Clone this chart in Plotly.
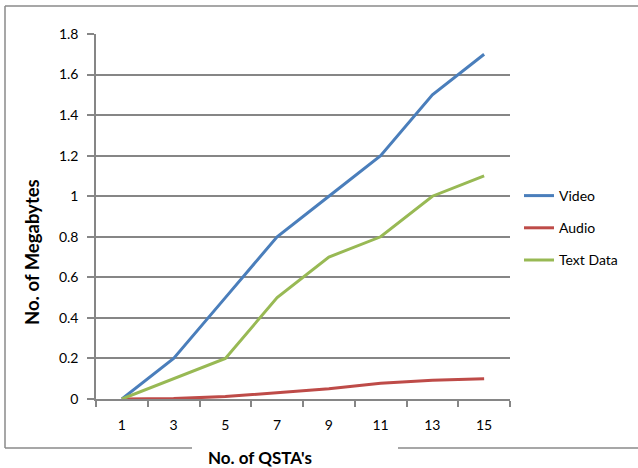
import plotly.graph_objects as go

categories = ["1", "3", "5", "7", "9", "11", "13", "15"]
video = [0, 0.2, 0.5, 0.8, 1.0, 1.2, 1.5, 1.7]
audio = [0, 0.002, 0.012, 0.03, 0.05, 0.078, 0.092, 0.1]
text_data = [0, 0.1, 0.2, 0.5, 0.7, 0.8, 1.0, 1.1]
y_ticks = [0, 0.2, 0.4, 0.6, 0.8, 1, 1.2, 1.4, 1.6, 1.8]
y_ticklabels = ["0", "0.2", "0.4", "0.6", "0.8", "1", "1.2", "1.4", "1.6", "1.8"]

series = [("Video", video, "#4A7EBB"), ("Audio", audio, "#BE4B48"), ("Text Data", text_data, "#98B954")]

W, H = 638, 468
L, R, T, B = 96, 510, 34, 399

fig = go.Figure()
for name, vals, col in series:
    fig.add_trace(go.Scatter(x=categories, y=vals, mode="lines", name=name,
                             legendgroup=name,
                             line=dict(color=col, width=3)))

def px(x):
    return (x - L) / (R - L)

def py(y):
    return (B - y) / (B - T)

border = dict(color="#8a8a8a", width=1.5)
shapes = [
    dict(type="line", xref="paper", yref="paper", x0=px(5), y0=py(6), x1=px(645), y1=py(6), line=border),
    dict(type="line", xref="paper", yref="paper", x0=px(5), y0=py(6), x1=px(5), y1=py(448), line=border),
    dict(type="line", xref="paper", yref="paper", x0=px(5), y0=py(448), x1=px(192), y1=py(448), line=border),
    dict(type="line", xref="paper", yref="paper", x0=px(398), y0=py(448), x1=px(645), y1=py(448), line=border),
]

font = "Lato, Open Sans, sans-serif"
fig.update_layout(
    width=W, height=H,
    margin=dict(l=L, r=W - R, t=T, b=H - B, pad=0),
    plot_bgcolor="white", paper_bgcolor="white",
    font=dict(family=font, size=14, color="#000000"),
    shapes=shapes,
    showlegend=True,
    legend=dict(x=px(519), y=py(180), xanchor="left", yanchor="top",
                font=dict(size=14, family=font), tracegroupgap=11,
                bgcolor="rgba(0,0,0,0)"),
    annotations=[
        dict(text="<b>No. of QSTA's</b>", xref="paper", yref="paper", x=px(260), y=py(457),
             showarrow=False, font=dict(size=17, family=font), xanchor="center", yanchor="middle"),
        dict(text="<b>No. of Megabytes</b>", xref="paper", yref="paper", x=px(32), y=py(252),
             showarrow=False, font=dict(size=18.5, family=font), textangle=-90,
             xanchor="center", yanchor="middle"),
    ],
)
fig.update_xaxes(type="category", range=[-0.5, 7.5], showgrid=False, showline=True,
                 linecolor="#868686", linewidth=1.5, ticks="outside", tickson="boundaries",
                 ticklen=6, tickcolor="#868686", tickwidth=1.5, tickfont=dict(size=14),
                 ticklabelstandoff=12, zeroline=False, fixedrange=True)
fig.update_yaxes(range=[0, 1.8], tickvals=y_ticks, ticktext=y_ticklabels, showgrid=True,
                 gridcolor="#868686", gridwidth=1.5, showline=True, linecolor="#868686",
                 linewidth=1.5, ticks="outside", ticklen=7, tickcolor="#868686", tickwidth=1.5,
                 ticklabelstandoff=6, zeroline=False, tickfont=dict(size=14))

fig.write_html("out.html", config={"displayModeBar": False},
               post_script="document.body.style.margin='0';")
